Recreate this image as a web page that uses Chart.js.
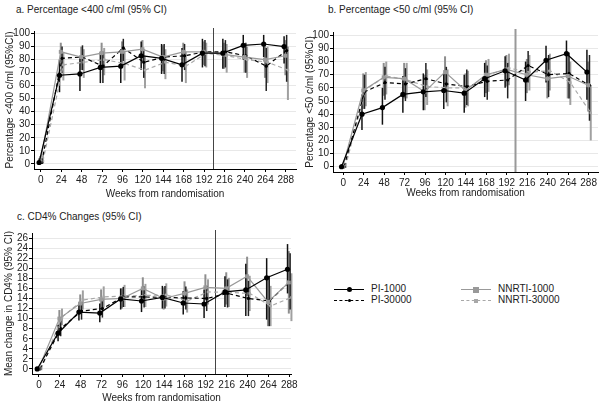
<!DOCTYPE html>
<html>
<head>
<meta charset="utf-8">
<script src="https://cdn.jsdelivr.net/npm/chart.js@4.4.1/dist/chart.umd.min.js"></script>
<style>
  body { margin: 0; background: #fff; font-family: "Liberation Sans", Arial, sans-serif; color: #222; }
  #wrap { position: relative; width: 603px; height: 408px; overflow: hidden; }
  canvas { position: absolute; }
  .ptitle { position: absolute; font-size: 10px; line-height: 12px; white-space: nowrap; }
  .leg { position: absolute; font-size: 10px; line-height: 12px; white-space: nowrap; }
  .sw { position: absolute; width: 30px; height: 0; }
  .mk { position: absolute; }
</style>
</head>
<body>
<div id="wrap">
  <div class="ptitle" style="left:16px; top:4px;">a. Percentage &lt;400 c/ml (95% CI)</div>
  <div class="ptitle" style="left:328px; top:4px;">b. Percentage &lt;50 c/ml (95% CI)</div>
  <div class="ptitle" style="left:17px; top:211px;">c. CD4% Changes (95% CI)</div>
  <canvas id="chartA" width="300" height="200" style="left:0; top:0;"></canvas>
  <canvas id="chartB" width="303" height="200" style="left:300px; top:0;"></canvas>
  <canvas id="chartC" width="300" height="208" style="left:0; top:200px;"></canvas>
  <div id="legend"></div>
</div>
<script>
// Weeks and tick labels
const weeks = [0, 24, 48, 72, 96, 120, 144, 168, 192, 216, 240, 264, 288];
const xTicks = [0, 24, 48, 72, 96, 120, 144, 168, 192, 216, 240, 264, 288];
const yTicksPct = [0, 10, 20, 30, 40, 50, 60, 70, 80, 90, 100];
const yTicksCd4 = [0, 2, 4, 6, 8, 10, 12, 14, 16, 18, 20, 22, 24, 26];
const cutWeek = 202;

const seriesNames = ["PI-1000", "NNRTI-1000", "PI-30000", "NNRTI-30000"];

// a. Percentage <400 c/ml
const a_pi1000 = [1, 68, 69, 74, 75, 83, 81, 76, 85, 85, 91, 92, 90];
const a_pi1000Lo = [0, 55, 56, 62, 62, 72, 69, 63, 74, 73, 80, 82, 77];
const a_pi1000Hi = [4, 80, 82, 86, 88, 94, 92, 89, 96, 96, 99, 99, 98];
const a_nn1000 = [2, 86, 82, 85, 86, 88, 82, 86, 86, 84, 82, 80, 83];
const a_nn1000Lo = [0, 78, 72, 75, 76, 79, 71, 77, 76, 73, 70, 66, 68];
const a_nn1000Hi = [6, 93, 90, 93, 94, 95, 91, 93, 94, 93, 92, 91, 95];
const a_pi30000 = [1, 81, 82, 75, 89, 78, 82, 83, 86, 86, 83, 75, 87];
const a_pi30000Lo = [0, 70, 72, 62, 79, 66, 69, 72, 75, 74, 70, 56, 63];
const a_pi30000Hi = [4, 90, 91, 86, 96, 88, 92, 92, 95, 95, 93, 89, 99];
const a_nn30000 = [2, 76, 78, 80, 77, 72, 78, 75, 85, 83, 80, 78, 72];
const a_nn30000Lo = [0, 64, 66, 68, 64, 58, 65, 62, 74, 70, 66, 62, 49];
const a_nn30000Hi = [6, 86, 88, 89, 87, 83, 88, 86, 93, 92, 90, 90, 90];

// b. Percentage <50 c/ml
const b_pi1000 = [0, 40, 45, 55, 57, 58, 56, 67, 73, 66, 81, 86, 72];
const b_pi1000Lo = [0, 28, 32, 41, 43, 44, 41, 53, 60, 50, 64, 70, 51];
const b_pi1000Hi = [2, 55, 60, 69, 71, 71, 70, 79, 84, 80, 92, 96, 89];
const b_nn1000 = [0, 58, 68, 67, 57, 72, 58, 70, 74, 70, 67, 69, 62];
const b_nn1000Lo = [0, 44, 54, 52, 43, 59, 45, 56, 61, 56, 52, 52, 42];
const b_nn1000Hi = [2, 71, 79, 79, 70, 84, 71, 81, 85, 82, 80, 86, 80];
const b_pi30000 = [0, 57, 64, 63, 67, 63, 61, 65, 66, 77, 70, 71, 62];
const b_pi30000Lo = [0, 44, 51, 50, 53, 49, 47, 51, 52, 64, 53, 52, 35];
const b_pi30000Hi = [2, 70, 76, 75, 79, 76, 74, 77, 79, 88, 85, 87, 85];
const b_nn30000 = [0, 59, 69, 66, 61, 60, 60, 70, 75, 72, 73, 64, 41];
const b_nn30000Lo = [0, 46, 55, 52, 47, 46, 46, 57, 62, 58, 58, 47, 20];
const b_nn30000Hi = [2, 72, 80, 79, 74, 74, 73, 82, 86, 85, 86, 80, 62];

// c. CD4% changes
const c_pi1000 = [0, 7.1, 11.3, 11.1, 13.9, 13.5, 14.2, 13.1, 12.9, 15.3, 15.7, 18.1, 19.8];
const c_pi1000Lo = [0, 5.5, 9.6, 9.3, 11.8, 11.3, 12, 10.8, 10.1, 12.3, 10.5, 9.8, 15];
const c_pi1000Hi = [0.4, 8.8, 13.2, 13, 16, 15.7, 16.5, 15.5, 15.8, 18.4, 20.9, 22, 24.8];
const c_nn1000 = [0, 10, 13, 13.8, 14, 16, 14, 15, 16.2, 16, 18.4, 13.3, 17.2];
const c_nn1000Lo = [0, 8.3, 11.2, 11.8, 12, 13.8, 11.8, 12.6, 13.6, 12.8, 14.5, 8.5, 11];
const c_nn1000Hi = [0.4, 11.7, 14.8, 15.8, 16, 18.2, 16.2, 17.4, 18.8, 19.2, 22.3, 18.1, 23.4];
const c_pi30000 = [0, 8, 11.5, 12, 14.3, 14.3, 14.2, 14.1, 14, 15, 14, 13.5, 17.4];
const c_pi30000Lo = [0, 6.5, 9.8, 10.2, 12.3, 12.2, 12, 11.8, 11.5, 12.2, 10.5, 8.5, 11.8];
const c_pi30000Hi = [0.4, 9.6, 13.3, 13.8, 16.3, 16.4, 16.5, 16.4, 16.5, 17.8, 17.5, 18.5, 23];
const c_nn30000 = [0, 10.3, 13.7, 14.3, 14.5, 14.6, 14.7, 13.5, 15.3, 15.2, 15, 12.5, 14.2];
const c_nn30000Lo = [0, 8.7, 11.8, 12.2, 12.3, 12.3, 12.4, 11.2, 12.8, 12.3, 11.5, 8.5, 9.5];
const c_nn30000Hi = [0.4, 12, 15.6, 16.4, 16.7, 16.9, 17, 15.8, 17.8, 18.1, 18.5, 16.5, 19];

Chart.defaults.font.family = "'Liberation Sans', Arial, sans-serif";
Chart.defaults.font.size = 10;
Chart.defaults.color = "#222";

// look of each series (x jitter so the bars don't sit on top of each other)
const styles = [
  { color: "#000", barColor: "#111", barWidth: 1.5, dash: [], point: "circle", radius: 2.6, jitter: -2 },
  { color: "#999", barColor: "#8e8e8e", barWidth: 2, dash: [], point: "rect", radius: 2.8, jitter: -0.5 },
  { color: "#000", barColor: "#222", barWidth: 1.5, dash: [4, 3], point: "circle", radius: 1.6, jitter: 1 },
  { color: "#a8a8a8", barColor: "#a0a0a0", barWidth: 2, dash: [4, 3], point: "rect", radius: 1.8, jitter: 2.5 }
];

function makeDatasets(series) {
  // draw gray first, black on top
  const order = [1, 3, 0, 2];
  return order.map(k => {
    const s = series[k], st = styles[k];
    return {
      label: seriesNames[k],
      data: weeks.map((w, i) => ({ x: w + st.jitter, y: s.mean[i] })),
      lo: s.lo, hi: s.hi,
      barColor: st.barColor, barWidth: st.barWidth,
      borderColor: st.color, backgroundColor: st.color,
      borderWidth: 1.2, borderDash: st.dash,
      pointStyle: st.point, pointRadius: st.radius,
      pointBackgroundColor: st.color, pointBorderColor: st.color, pointBorderWidth: 0,
      tension: 0, order: k
    };
  });
}

// 95% CI bars
const errorBars = {
  id: "errorBars",
  beforeDatasetsDraw(chart) {
    const { ctx, scales: { x, y } } = chart;
    chart.data.datasets.forEach(ds => {
      ctx.save();
      ctx.strokeStyle = ds.barColor;
      ctx.lineWidth = ds.barWidth;
      ds.data.forEach((p, i) => {
        const px = x.getPixelForValue(p.x);
        ctx.beginPath();
        ctx.moveTo(px, y.getPixelForValue(ds.lo[i]));
        ctx.lineTo(px, y.getPixelForValue(ds.hi[i]));
        ctx.stroke();
      });
      ctx.restore();
    });
  }
};

// vertical reference line
const cutLine = {
  id: "cutLine",
  beforeDatasetsDraw(chart, args, opts) {
    const { ctx, chartArea, scales: { x } } = chart;
    const px = Math.round(x.getPixelForValue(cutWeek)) + 0.5;
    ctx.save();
    ctx.strokeStyle = opts.color;
    ctx.lineWidth = opts.width;
    ctx.beginPath();
    ctx.moveTo(px, chartArea.top - 3);
    ctx.lineTo(px, chartArea.bottom);
    ctx.stroke();
    ctx.restore();
  }
};

function makeChart(id, series, cfg) {
  return new Chart(document.getElementById(id), {
    type: "line",
    data: { datasets: makeDatasets(series) },
    plugins: [errorBars, cutLine],
    options: {
      responsive: false,
      animation: false,
      devicePixelRatio: 1,
      layout: { padding: { top: cfg.top, right: cfg.right, left: 0, bottom: 0 } },
      plugins: {
        legend: { display: false },
        tooltip: { enabled: false },
        cutLine: { color: cfg.cutColor, width: cfg.cutWidth }
      },
      scales: {
        x: {
          type: "linear",
          min: cfg.xMin, max: cfg.xMax,
          afterBuildTicks: s => { s.ticks = xTicks.map(v => ({ value: v })); },
          afterFit: s => { s.height = cfg.xHeight; },
          ticks: { autoSkip: false, maxRotation: 0, padding: cfg.xTickPad, color: "#222" },
          grid: { drawOnChartArea: false, tickColor: "#000", tickLength: 3 },
          border: { color: "#000", width: 1 },
          title: { display: true, text: "Weeks from randomisation", color: "#222", padding: { top: 0, bottom: cfg.xTitlePad } }
        },
        y: {
          min: cfg.yMin, max: cfg.yMax,
          afterBuildTicks: s => { s.ticks = cfg.yTicks.map(v => ({ value: v })); },
          afterFit: s => { s.width = cfg.yWidth; },
          ticks: { autoSkip: false, padding: 1, color: "#222" },
          grid: { color: "#e8e8e8", tickColor: "#000", tickLength: 3 },
          border: { color: "#000", width: 1 },
          title: { display: true, text: cfg.yTitle, color: "#222", padding: { top: cfg.yTitlePad, bottom: 0 } }
        }
      }
    }
  });
}

makeChart("chartA", [
  { mean: a_pi1000, lo: a_pi1000Lo, hi: a_pi1000Hi },
  { mean: a_nn1000, lo: a_nn1000Lo, hi: a_nn1000Hi },
  { mean: a_pi30000, lo: a_pi30000Lo, hi: a_pi30000Hi },
  { mean: a_nn30000, lo: a_nn30000Lo, hi: a_nn30000Hi }
], {
  top: 31, right: 3, xHeight: 31, xTickPad: 2, xTitlePad: 0, yWidth: 34, yTitlePad: 4,
  xMin: -8, xMax: 300, yMin: -4, yMax: 102, yTicks: yTicksPct,
  yTitle: "Percentage <400 c/ml (95%CI)", cutColor: "#444", cutWidth: 1
});

makeChart("chartB", [
  { mean: b_pi1000, lo: b_pi1000Lo, hi: b_pi1000Hi },
  { mean: b_nn1000, lo: b_nn1000Lo, hi: b_nn1000Hi },
  { mean: b_pi30000, lo: b_pi30000Lo, hi: b_pi30000Hi },
  { mean: b_nn30000, lo: b_nn30000Lo, hi: b_nn30000Hi }
], {
  top: 32, right: 5, xHeight: 28, xTickPad: 2, xTitlePad: 1, yWidth: 33, yTitlePad: 4,
  xMin: -12, xMax: 299, yMin: -4, yMax: 102.5, yTicks: yTicksPct,
  yTitle: "Percentage <50 c/ml (95%CI)", cutColor: "#999", cutWidth: 2
});

makeChart("chartC", [
  { mean: c_pi1000, lo: c_pi1000Lo, hi: c_pi1000Hi },
  { mean: c_nn1000, lo: c_nn1000Lo, hi: c_nn1000Hi },
  { mean: c_pi30000, lo: c_pi30000Lo, hi: c_pi30000Hi },
  { mean: c_nn30000, lo: c_nn30000Lo, hi: c_nn30000Hi }
], {
  top: 33, right: 9, xHeight: 34, xTickPad: 2, xTitlePad: 4, yWidth: 32, yTitlePad: 3,
  xMin: -8, xMax: 290, yMin: -1, yMax: 27, yTicks: yTicksCd4,
  yTitle: "Mean change in CD4% (95% CI)", cutColor: "#444", cutWidth: 1
});

// legend (HTML, two rows)
const legendPos = [
  { left: 334, top: 289 }, { left: 461, top: 289 },
  { left: 334, top: 300 }, { left: 461, top: 300 }
];
const legend = document.getElementById("legend");
seriesNames.forEach((name, k) => {
  const st = styles[k], pos = legendPos[k];
  const line = document.createElement("div");
  line.className = "sw";
  line.style.left = pos.left + "px";
  line.style.top = pos.top + "px";
  line.style.borderTop = "1.2px " + (st.dash.length ? "dashed " : "solid ") + st.color;
  legend.appendChild(line);
  const mk = document.createElement("div");
  mk.className = "mk";
  const d = Math.round(st.radius * 2);
  mk.style.width = d + "px";
  mk.style.height = d + "px";
  mk.style.left = (pos.left + 15 - d / 2) + "px";
  mk.style.top = (pos.top - d / 2 + 0.5) + "px";
  mk.style.background = st.color;
  if (st.point === "circle") mk.style.borderRadius = "50%";
  legend.appendChild(mk);
  const t = document.createElement("div");
  t.className = "leg";
  t.textContent = name;
  t.style.left = (pos.left + 37) + "px";
  t.style.top = (pos.top - 6) + "px";
  legend.appendChild(t);
});
</script>
</body>
</html>
